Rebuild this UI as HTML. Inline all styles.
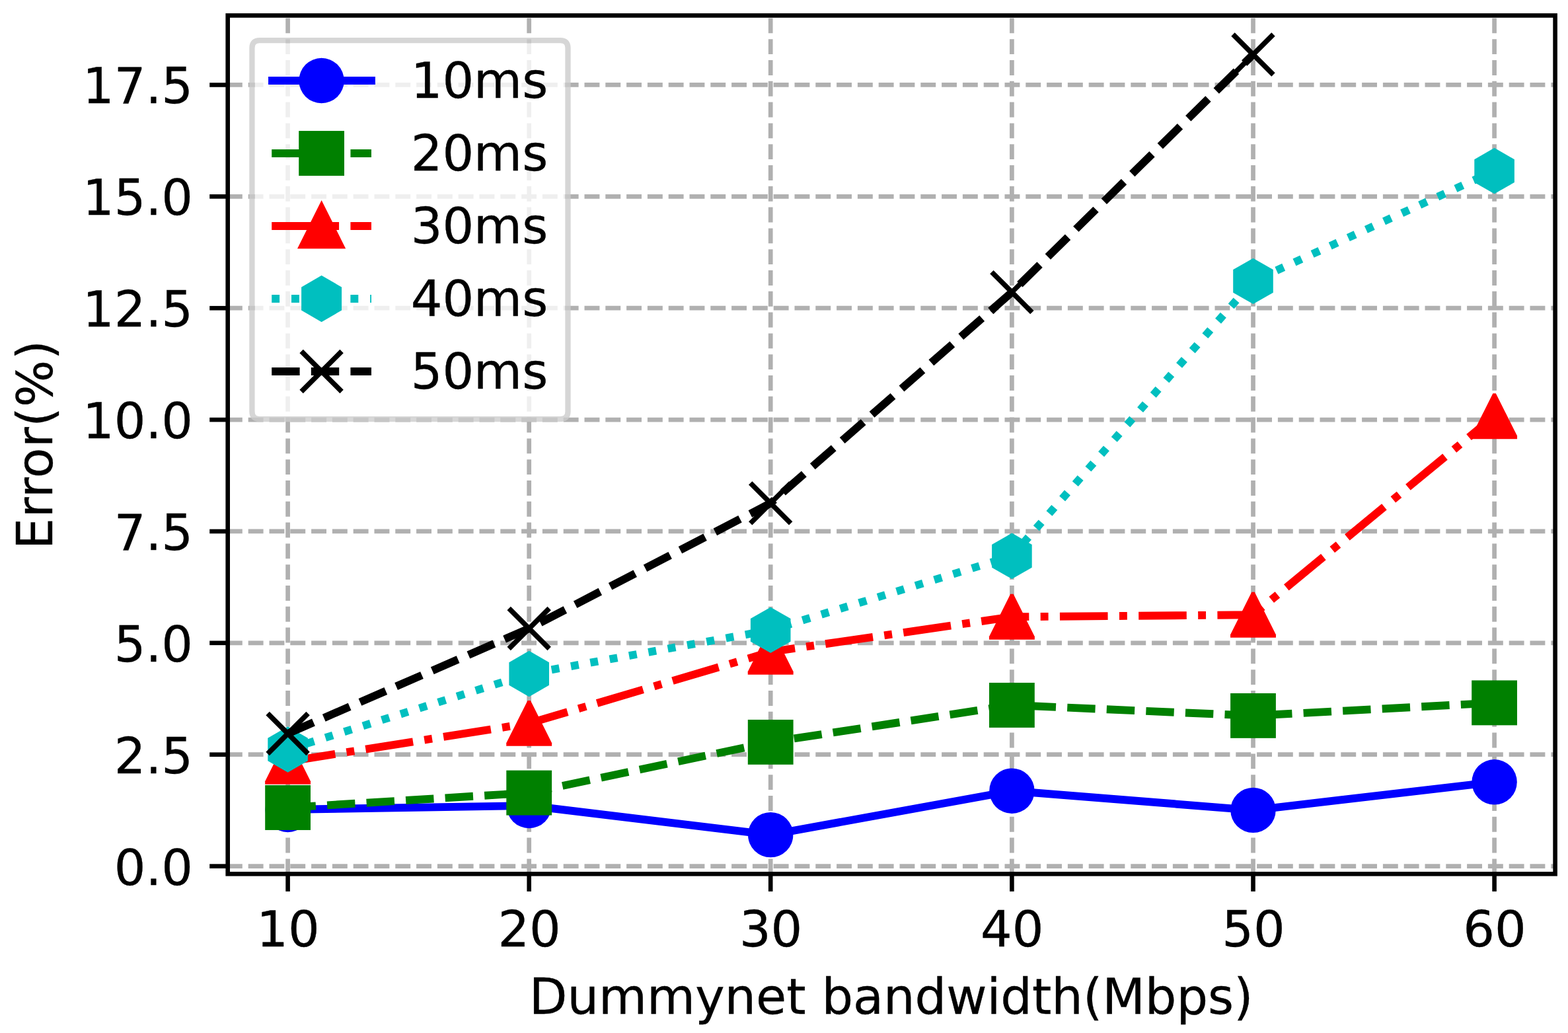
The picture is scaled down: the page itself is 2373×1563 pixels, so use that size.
<!DOCTYPE html>
<html lang="en"><head><meta charset="utf-8"><title>Error vs Dummynet bandwidth</title>
<style>
html,body{margin:0;padding:0;background:#fff}
body{width:2373px;height:1563px;overflow:hidden}
svg{display:block}
text{font-family:"DejaVu Sans","Liberation Sans",sans-serif;font-size:75px;fill:#000;stroke:#000;stroke-width:0.35px}
.grid line{stroke:#b0b0b0;stroke-width:6.7;stroke-dasharray:22.9 8.9}
.spine{fill:none;stroke:#000;stroke-width:6.6;stroke-linejoin:miter}
.tick line{stroke:#000;stroke-width:6.6}
.ln{fill:none;stroke-width:11.9;stroke-linejoin:round}
.xm{stroke:#000;stroke-width:7.6;fill:none}
</style></head><body>
<svg width="2373" height="1563" viewBox="0 0 2373 1563">
<defs>
<clipPath id="ax"><rect x="344.7" y="23.45" width="2008.9" height="1298.85"/></clipPath>
<circle id="mb" r="34.2" fill="#0000ff"/>
<rect id="mg" x="-34.4" y="-33.95" width="68.8" height="67.9" fill="#008000"/>
<polygon id="mr" points="-2.2,-34.45 2.2,-34.45 34.45,29.9 34.45,34.45 -34.45,34.45 -34.45,29.9" fill="#ff0000"/>
<polygon id="mrl" points="0,-39 36.6,34.2 -36.6,34.2" fill="#ff0000"/>
<polygon id="mc" points="0,-34.7 30.3,-17.35 30.3,17.35 0,34.7 -30.3,17.35 -30.3,-17.35" fill="#00bfbf"/>
<polygon id="mcl" points="0,-35.2 30.5,-17.6 30.5,17.6 0,35.2 -30.5,17.6 -30.5,-17.6" fill="#00bfbf"/>
<path id="mk" class="xm" d="M-30.5,-30.5L30.5,30.5M-30.5,30.5L30.5,-30.5"/>
</defs>
<rect width="2373" height="1563" fill="#fff"/>
<g class="grid" clip-path="url(#ax)">
<line x1="435.6" y1="1322.3" x2="435.6" y2="23.45"/>
<line x1="800.7" y1="1322.3" x2="800.7" y2="23.45"/>
<line x1="1166.2" y1="1322.3" x2="1166.2" y2="23.45"/>
<line x1="1531.4" y1="1322.3" x2="1531.4" y2="23.45"/>
<line x1="1896.5" y1="1322.3" x2="1896.5" y2="23.45"/>
<line x1="2261.6" y1="1322.3" x2="2261.6" y2="23.45"/>
<line x1="343.9" y1="1310.6" x2="2353.6" y2="1310.6"/>
<line x1="343.9" y1="1141.72" x2="2353.6" y2="1141.72"/>
<line x1="343.9" y1="972.85" x2="2353.6" y2="972.85"/>
<line x1="343.9" y1="803.97" x2="2353.6" y2="803.97"/>
<line x1="343.9" y1="635.1" x2="2353.6" y2="635.1"/>
<line x1="343.9" y1="466.22" x2="2353.6" y2="466.22"/>
<line x1="343.9" y1="297.35" x2="2353.6" y2="297.35"/>
<line x1="343.9" y1="128.47" x2="2353.6" y2="128.47"/>
</g>
<g clip-path="url(#ax)">
<polyline class="ln" stroke="#0000ff" stroke-linecap="square" points="435.6,1225.0 800.7,1219.0 1166.2,1263.1 1531.4,1196.7 1896.5,1225.9 2261.6,1183.3"/>
<use href="#mb" x="435.6" y="1225.0"/>
<use href="#mb" x="800.7" y="1219.0"/>
<use href="#mb" x="1166.2" y="1263.1"/>
<use href="#mb" x="1531.4" y="1196.7"/>
<use href="#mb" x="1896.5" y="1225.9"/>
<use href="#mb" x="2261.6" y="1183.3"/>
<polyline class="ln" stroke="#008000" stroke-dasharray="42.4 17.23" points="435.6,1222.0 800.7,1199.6 1166.2,1122.9 1531.4,1067.0 1896.5,1082.9 2261.6,1063.4"/>
<use href="#mg" x="435.6" y="1222.0"/>
<use href="#mg" x="800.7" y="1199.6"/>
<use href="#mg" x="1166.2" y="1122.9"/>
<use href="#mg" x="1531.4" y="1067.0"/>
<use href="#mg" x="1896.5" y="1082.9"/>
<use href="#mg" x="2261.6" y="1063.4"/>
<polyline class="ln" stroke="#ff0000" stroke-dasharray="72.6 17.37 11.9 17.37" points="435.6,1152.3 800.7,1094.4 1166.2,986.3 1531.4,933.3 1896.5,930.25 2261.6,629.7"/>
<use href="#mr" x="435.6" y="1152.3"/>
<use href="#mr" x="800.7" y="1094.4"/>
<use href="#mr" x="1166.2" y="986.3"/>
<use href="#mr" x="1531.4" y="933.3"/>
<use href="#mr" x="1896.5" y="930.25"/>
<use href="#mr" x="2261.6" y="629.7"/>
<polyline class="ln" stroke="#00bfbf" stroke-dasharray="11.9 17.9" points="435.6,1134.0 800.7,1019.5 1166.2,953.35 1531.4,841.3 1896.5,425.4 2261.6,258.55"/>
<use href="#mc" x="435.6" y="1134.0"/>
<use href="#mc" x="800.7" y="1019.5"/>
<use href="#mc" x="1166.2" y="953.35"/>
<use href="#mc" x="1531.4" y="841.3"/>
<use href="#mc" x="1896.5" y="425.4"/>
<use href="#mc" x="2261.6" y="258.55"/>
<polyline class="ln" stroke="#000000" stroke-dasharray="42.4 17.23" points="435.6,1110.0 800.7,950.95 1166.2,761.4 1531.4,442.1 1896.5,82.5"/>
<use href="#mk" x="435.6" y="1110.0"/>
<use href="#mk" x="800.7" y="950.95"/>
<use href="#mk" x="1166.2" y="761.4"/>
<use href="#mk" x="1531.4" y="442.1"/>
<use href="#mk" x="1896.5" y="82.5"/>
</g>
<rect class="spine" x="344.7" y="23.45" width="2008.9" height="1298.85"/>
<g class="tick">
<line x1="435.6" y1="1322.3" x2="435.6" y2="1348.8"/>
<line x1="800.7" y1="1322.3" x2="800.7" y2="1348.8"/>
<line x1="1166.2" y1="1322.3" x2="1166.2" y2="1348.8"/>
<line x1="1531.4" y1="1322.3" x2="1531.4" y2="1348.8"/>
<line x1="1896.5" y1="1322.3" x2="1896.5" y2="1348.8"/>
<line x1="2261.6" y1="1322.3" x2="2261.6" y2="1348.8"/>
<line x1="317.2" y1="1310.6" x2="344.7" y2="1310.6"/>
<line x1="317.2" y1="1141.72" x2="344.7" y2="1141.72"/>
<line x1="317.2" y1="972.85" x2="344.7" y2="972.85"/>
<line x1="317.2" y1="803.97" x2="344.7" y2="803.97"/>
<line x1="317.2" y1="635.1" x2="344.7" y2="635.1"/>
<line x1="317.2" y1="466.22" x2="344.7" y2="466.22"/>
<line x1="317.2" y1="297.35" x2="344.7" y2="297.35"/>
<line x1="317.2" y1="128.47" x2="344.7" y2="128.47"/>
</g>
<g text-anchor="middle">
<text x="436.0" y="1431.6">10</text>
<text x="801.1" y="1431.6">20</text>
<text x="1166.6" y="1431.6">30</text>
<text x="1531.8" y="1431.6">40</text>
<text x="1896.9" y="1431.6">50</text>
<text x="2262.0" y="1431.6">60</text>
</g>
<g text-anchor="end">
<text x="292.1" y="1338.5">0.0</text>
<text x="292.1" y="1169.6">2.5</text>
<text x="292.1" y="1000.7">5.0</text>
<text x="292.1" y="831.9">7.5</text>
<text x="292.1" y="663.0">10.0</text>
<text x="292.1" y="494.1">12.5</text>
<text x="292.1" y="325.2">15.0</text>
<text x="292.1" y="156.4">17.5</text>
</g>
<text x="1348.6" y="1533.7" text-anchor="middle">Dummynet bandwidth(Mbps)</text>
<text transform="translate(79.1,672.8) rotate(-90)" text-anchor="middle" letter-spacing="0.55">Error(%)</text>
<path d="M393.95,65.25L847.0,65.25Q855.35,65.25 855.35,73.6L855.35,621.6Q855.35,629.95 847.0,629.95L393.95,629.95Q385.6,629.95 385.6,621.6L385.6,73.6Q385.6,65.25 393.95,65.25Z" fill="#fff" fill-opacity="0.8"/>
<path d="M392.95,61.1L848.0,61.1Q859.5,61.1 859.5,72.6L859.5,622.6Q859.5,634.1 848.0,634.1L392.95,634.1Q381.45,634.1 381.45,622.6L381.45,72.6Q381.45,61.1 392.95,61.1Z" fill="none" stroke="#ccc" stroke-opacity="0.8" stroke-width="8.3"/>
<line class="ln" stroke="#0000ff" stroke-linecap="square" x1="412.0" y1="122.0" x2="562.0" y2="122.0"/>
<use href="#mb" x="486.6" y="122.0"/>
<text x="621.7" y="147.7">10ms</text>
<line class="ln" stroke="#008000" stroke-dasharray="42.4 17.23" x1="411.2" y1="232.0" x2="562.0" y2="232.0"/>
<use href="#mg" x="486.6" y="232.0"/>
<text x="621.7" y="257.7">20ms</text>
<line class="ln" stroke="#ff0000" stroke-dasharray="72.6 17.37 11.9 17.37" x1="411.2" y1="342.0" x2="562.0" y2="342.0"/>
<use href="#mrl" x="486.6" y="342.0"/>
<text x="621.7" y="367.7">30ms</text>
<line class="ln" stroke="#00bfbf" stroke-dasharray="11.9 17.9" x1="411.2" y1="452.0" x2="562.0" y2="452.0"/>
<use href="#mcl" x="486.6" y="452.0"/>
<text x="621.7" y="477.7">40ms</text>
<line class="ln" stroke="#000000" stroke-dasharray="42.4 17.23" x1="411.2" y1="562.0" x2="562.0" y2="562.0"/>
<use href="#mk" x="486.6" y="562.0"/>
<text x="621.7" y="587.7">50ms</text>
</svg>
</body></html>
